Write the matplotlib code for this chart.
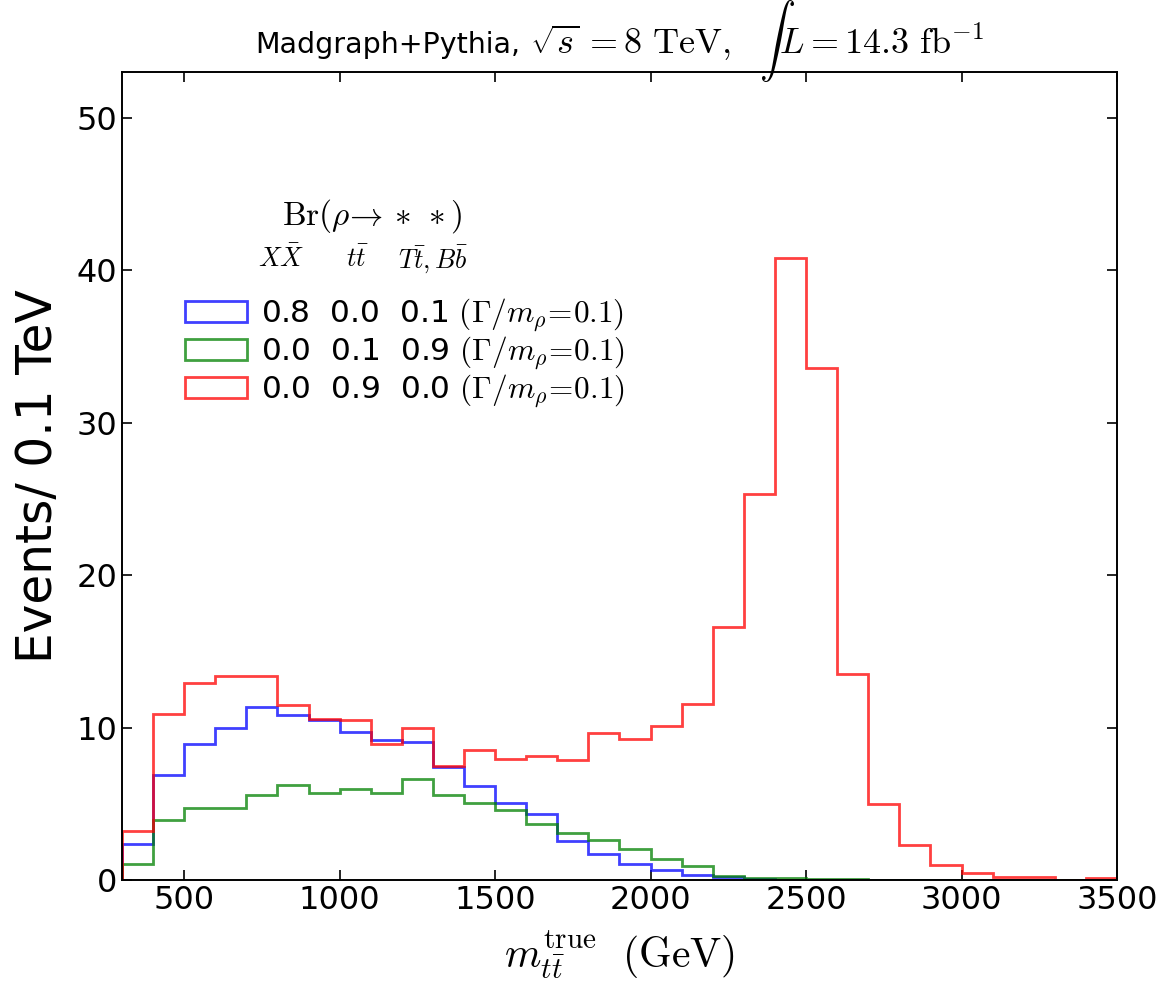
import numpy as np
import matplotlib
matplotlib.use("Agg")
import matplotlib.pyplot as plt

plt.rcParams['mathtext.fontset'] = 'cm'
plt.rcParams['font.family'] = ['DejaVu Sans']

# 100 GeV bins from 300 to 3500 GeV
bin_edges = np.arange(300, 3600, 100)
bin_centers = bin_edges[:-1] + 50

# events per 0.1 TeV
xx_events = [2.35, 6.9, 8.9, 9.95, 11.35, 10.8, 10.5, 9.7, 9.2, 9.05, 7.4,
             6.15, 5.05, 4.35, 2.55, 1.7, 1.05, 0.65, 0.35, 0.2, 0.05, 0.0,
             0.0, 0.0, 0.0, 0.0, 0.0, 0.0, 0.0, 0.0, 0.0, 0.0]
tt_vlq_events = [1.05, 3.95, 4.75, 4.75, 5.55, 6.25, 5.7, 5.95, 5.7, 6.6, 5.55,
                 5.05, 4.6, 3.7, 3.1, 2.6, 2.0, 1.4, 0.9, 0.25, 0.1, 0.1,
                 0.05, 0.05, 0.0, 0.0, 0.0, 0.0, 0.0, 0.0, 0.0, 0.0]
tt_events = [3.2, 10.9, 12.95, 13.4, 13.4, 11.5, 10.55, 10.5, 8.9, 9.95, 7.45,
             8.55, 7.95, 8.1, 7.9, 9.65, 9.25, 10.1, 11.55, 16.6, 25.3, 40.8,
             33.6, 13.5, 5.0, 2.3, 0.95, 0.45, 0.2, 0.2, 0.0, 0.1]

labels = [r"0.8  0.0  0.1 $(\Gamma/m_\rho\!=\!0.1)$",
          r"0.0  0.1  0.9 $(\Gamma/m_\rho\!=\!0.1)$",
          r"0.0  0.9  0.0 $(\Gamma/m_\rho\!=\!0.1)$"]
colors = ['b', 'g', 'r']

fig = plt.figure(figsize=(11.64, 9.82), dpi=100)
ax = fig.add_axes([0.1048, 0.1039, 0.8548, 0.8228])

handles = []
for vals, c, lab in zip([xx_events, tt_vlq_events, tt_events], colors, labels):
    _, _, patches = ax.hist(bin_centers, bins=bin_edges, weights=vals,
                            histtype='step', color=c, lw=2, alpha=0.75, label=lab)
    handles.append(patches[0])

ax.set_xlim(300, 3500)
ax.set_ylim(0, 53)
ax.set_xticks(np.arange(500, 3501, 500))
ax.set_yticks(np.arange(0, 51, 10))
ax.tick_params(direction='in', top=True, right=True, labelsize=23, length=7, width=1.2)
for s in ax.spines.values():
    s.set_linewidth(1.4)

ax.set_xlabel(r"$m_{t\bar{t}}^{\rm true}\ \ (\mathrm{GeV})$", fontsize=30, labelpad=9)
ax.set_ylabel("Events/ 0.1 TeV", fontsize=35, labelpad=10)

# title: sans part + larger math part
ax.text(0.400, 1.023, "Madgraph+Pythia,", transform=ax.transAxes,
        ha='right', va='baseline', fontsize=20.5)
ax.text(0.410, 1.023, r"$\sqrt{s}\,=8\ \mathrm{TeV},\ \ \int L=14.3\ \mathrm{fb}^{-1}$",
        transform=ax.transAxes, ha='left', va='baseline', fontsize=26)

# legend header, aligned over the value columns
ax.text(0.251, 0.822, r"$\mathrm{Br}(\rho\!\rightarrow *\, *)$", transform=ax.transAxes,
        fontsize=24, ha='center', va='center')
ax.text(0.160, 0.768, r"$X\bar{X}$", transform=ax.transAxes, fontsize=19, ha='center', va='center')
ax.text(0.236, 0.768, r"$t\bar{t}$", transform=ax.transAxes, fontsize=19, ha='center', va='center')
ax.text(0.313, 0.768, r"$T\bar{t},B\bar{b}$", transform=ax.transAxes, fontsize=19, ha='center', va='center')

ax.legend(handles=handles, labels=labels, loc='upper left', bbox_to_anchor=(0.063, 0.721),
          frameon=False, fontsize=22.5, handlelength=2.0, handleheight=0.64,
          handletextpad=0.45, labelspacing=0.03, borderpad=0, borderaxespad=0)

fig.savefig("out.png", dpi=100)
